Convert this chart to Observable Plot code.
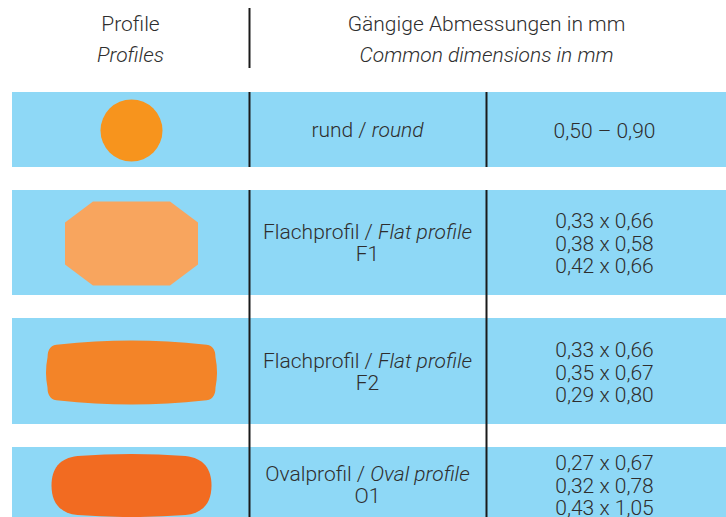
<!DOCTYPE html>
<html>
<head>
<meta charset="utf-8">
<script src="https://cdn.jsdelivr.net/npm/d3@7"></script>
<script src="https://cdn.jsdelivr.net/npm/@observablehq/plot@0.6"></script>
<style>
  html, body { margin: 0; padding: 0; background: #fff; }
  #chart svg { display: block; }
</style>
</head>
<body>
<div id="chart"></div>
<script>
// ---- data ----
const headerDe = ["Profile", "Gängige Abmessungen in mm"];
const headerEn = ["Profiles", "Common dimensions in mm"];
const profileKeys = ["round", "F1", "F2", "O1"];
const profileDe = ["rund", "Flachprofil", "Flachprofil", "Ovalprofil"];
const profileEn = ["round", "Flat profile", "Flat profile", "Oval profile"];
const profileCode = ["", "F1", "F2", "O1"];
const dimensions = [
  ["0,50 – 0,90"],
  ["0,33 x 0,66", "0,38 x 0,58", "0,42 x 0,66"],
  ["0,33 x 0,66", "0,35 x 0,67", "0,29 x 0,80"],
  ["0,27 x 0,67", "0,32 x 0,78", "0,43 x 1,05"]
];

// ---- layout & style ----
const W = 726, H = 517;
const rowTop = [92, 190, 318, 447];
const rowBottom = [167, 295, 424, 560];
const rowMid = [130, 243, 372, 485];
const colX = {shape: 131, name: 367, dims: 604, head1: 130, head2: 486};
const sepX = [249, 486];
const shapeColor = {round: "#F7941D", F1: "#F8A55E", F2: "#F38428", O1: "#F26B21"};
const band = "#8ED8F6";
const ink = "#2e2e2e";
const font = "Roboto, 'Liberation Sans', Arial, sans-serif";
const fs = 21;

// custom symbols (size = pi r^2, r = half width)
function half(size) { return Math.sqrt(size / Math.PI); }
const symbols = {
  round: {draw(ctx, size) { const r = half(size); ctx.moveTo(r, 0); ctx.arc(0, 0, r, 0, 2 * Math.PI); }},
  F1: {draw(ctx, size) {
    const s = half(size) / 66.5, w = 66.5 * s, h = 42 * s, cx = 28 * s, cy = 21 * s;
    ctx.moveTo(-w + cx, -h); ctx.lineTo(w - cx, -h); ctx.lineTo(w, -h + cy); ctx.lineTo(w, h - cy);
    ctx.lineTo(w - cx, h); ctx.lineTo(-w + cx, h); ctx.lineTo(-w, h - cy); ctx.lineTo(-w, -h + cy); ctx.closePath();
  }},
  F2: {draw(ctx, size) {
    const s = half(size) / 85.5, w = 85.5 * s, h = 32 * s, r = 13 * s, e = 4 * s, sb = 1.5 * s;
    ctx.moveTo(-w + r, -h + e);
    ctx.quadraticCurveTo(0, -h - e, w - r, -h + e);
    ctx.quadraticCurveTo(w - sb, -h + e, w - sb, -h + e + r);
    ctx.quadraticCurveTo(w + sb, 0, w - sb, h - e - r);
    ctx.quadraticCurveTo(w - sb, h - e, w - r, h - e);
    ctx.quadraticCurveTo(0, h + e, -w + r, h - e);
    ctx.quadraticCurveTo(-w + sb, h - e, -w + sb, h - e - r);
    ctx.quadraticCurveTo(-w - sb, 0, -w + sb, -h + e + r);
    ctx.quadraticCurveTo(-w + sb, -h + e, -w + r, -h + e);
    ctx.closePath();
  }},
  O1: {draw(ctx, size) {
    const s = half(size) / 80, w = 80 * s, h = 30.5 * s, r = 26 * s, b = 3 * s;
    ctx.moveTo(-w + r, -h + b * 0.3);
    ctx.quadraticCurveTo(0, -h - b, w - r, -h + b * 0.3);
    ctx.bezierCurveTo(w - r * 0.3, -h + b, w, -h * 0.55, w, 0);
    ctx.bezierCurveTo(w, h * 0.55, w - r * 0.3, h - b, w - r, h - b * 0.3);
    ctx.quadraticCurveTo(0, h + b, -w + r, h - b * 0.3);
    ctx.bezierCurveTo(-w + r * 0.3, h - b, -w, h * 0.55, -w, 0);
    ctx.bezierCurveTo(-w, -h * 0.55, -w + r * 0.3, -h + b, -w + r, -h + b * 0.3);
    ctx.closePath();
  }}
};
const shapeHalfWidth = {round: 31, F1: 66.5, F2: 85.5, O1: 80};

const rows = profileKeys.map((k, i) => ({
  key: k, i,
  top: rowTop[i], bottom: rowBottom[i], mid: rowMid[i],
  name: profileDe[i] + " / §" + profileEn[i],
  code: profileCode[i],
  dims: dimensions[i].join("\n")
}));

const headers = [
  {x: colX.head1, de: headerDe[0], en: headerEn[0]},
  {x: colX.head2, de: headerDe[1], en: headerEn[1]}
];

const rules = [
  {x: sepX[0], y1: 8, y2: 68},
  {x: sepX[0], y1: rowTop[0], y2: rowBottom[0]},
  {x: sepX[1], y1: rowTop[0], y2: rowBottom[0]},
  {x: sepX[0], y1: rowTop[1], y2: H},
  {x: sepX[1], y1: rowTop[1], y2: H}
];

const textOpts = {fill: ink, fontSize: fs, fontFamily: font, fontWeight: 300};

const marks = [
  Plot.rect(rows, {x1: 12, x2: W, y1: "top", y2: "bottom", fill: band}),
  Plot.ruleX(rules, {x: "x", y1: "y1", y2: "y2", stroke: "#1a1a1a", strokeWidth: 2}),
  ...rows.map(r => Plot.dot([r], {
    x: colX.shape, y: "mid", r: shapeHalfWidth[r.key], symbol: symbols[r.key],
    fill: shapeColor[r.key], stroke: "none"
  })),
  Plot.text(headers, {x: "x", y: 24, text: "de", ...textOpts}),
  Plot.text(headers, {x: "x", y: 55, text: "en", ...textOpts, fontStyle: "italic"}),
  Plot.text(rows, {x: colX.name, y: d => d.code ? d.mid - 11 : d.mid, text: "name", ...textOpts}),
  Plot.text(rows.filter(d => d.code), {x: colX.name, y: d => d.mid + 11, text: "code", ...textOpts}),
  Plot.text(rows, {x: colX.dims, y: "mid", text: "dims", lineHeight: 22.3 / fs, ...textOpts})
];

const chart = Plot.plot({
  width: W, height: H,
  marginTop: 0, marginRight: 0, marginBottom: 0, marginLeft: 0,
  x: {domain: [0, W], range: [0, W], axis: null},
  y: {domain: [0, H], range: [0, H], axis: null},
  style: {background: "#fff", overflow: "hidden"},
  marks
});

// mixed roman/italic in "name / name" labels
d3.select(chart).selectAll("text").each(function () {
  const t = this.textContent;
  if (t.includes("§") && this.children.length === 0) {
    const [a, b] = t.split("§");
    this.textContent = "";
    d3.select(this).append("tspan").text(a);
    d3.select(this).append("tspan").attr("font-style", "italic").text(b);
  }
});

document.getElementById("chart").appendChild(chart);
</script>
</body>
</html>
